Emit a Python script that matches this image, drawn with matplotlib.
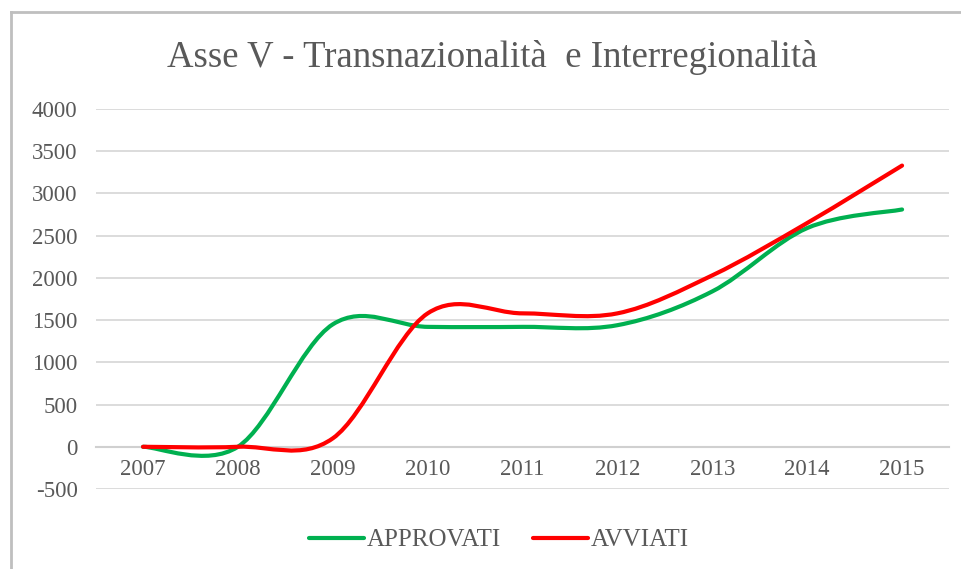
import numpy as np
import matplotlib.pyplot as plt
from matplotlib.path import Path
from matplotlib.patches import PathPatch
from matplotlib.lines import Line2D

plt.rcParams["font.family"] = ["Liberation Serif", "DejaVu Serif"]
plt.rcParams["axes.unicode_minus"] = False

anni = ["2007", "2008", "2009", "2010", "2011", "2012", "2013", "2014", "2015"]
approvati = [0, 0, 1450, 1420, 1420, 1440, 1840, 2590, 2810]
avviati = [0, 0, 100, 1580, 1580, 1580, 2030, 2650, 3330]

GRAY = "#595959"
GRID = "#d9d9d9"


def smooth_path(xs, ys):
    # curva tipo Excel (Catmull-Rom come Bezier cubiche)
    pts = np.column_stack([xs, ys]).astype(float)
    ext = np.vstack([pts[0], pts, pts[-1]])
    verts = [pts[0]]
    codes = [Path.MOVETO]
    for i in range(len(pts) - 1):
        p0, p1, p2, p3 = ext[i], ext[i + 1], ext[i + 2], ext[i + 3]
        c1 = p1 + (p2 - p0) / 6.0
        c2 = p2 - (p3 - p1) / 6.0
        verts += [c1, c2, p2]
        codes += [Path.CURVE4] * 3
    return Path(verts, codes)


fig = plt.figure(figsize=(9.62, 5.69), dpi=100)
W, H = 962, 569
ax = fig.add_axes([95.6 / W, 1 - 489 / H, (949.5 - 95.6) / W, (489 - 109) / H])

x = np.arange(len(anni))
serie = [("APPROVATI", approvati, "#00b050"), ("AVVIATI", avviati, "#ff0000")]
handles = []
for nome, vals, col in serie:
    patch = PathPatch(smooth_path(x, vals), facecolor="none", edgecolor=col,
                      lw=3, capstyle="round", joinstyle="round", zorder=3)
    ax.add_patch(patch)
    handles.append(Line2D([], [], color=col, lw=3, solid_capstyle="round", label=nome))

ax.set_xlim(-0.5, len(anni) - 0.5)
ax.set_ylim(-500, 4000)
ax.set_yticks(np.arange(-500, 4001, 500))
ax.set_xticks(x)
ax.set_xticklabels(anni)

ax.grid(axis="y", color=GRID, lw=1.3)
ax.set_axisbelow(True)
for s in ["top", "right", "left"]:
    ax.spines[s].set_visible(False)
ax.spines["bottom"].set_position(("data", 0))
ax.spines["bottom"].set_color("#d0d0d0")
ax.spines["bottom"].set_linewidth(1.5)

ax.tick_params(axis="y", length=0, pad=13, labelsize=16.5, labelcolor=GRAY)
ax.tick_params(axis="x", length=0, pad=9, labelsize=16.5, labelcolor=GRAY)

fig.text(492 / W, 1 - 57 / H, "Asse V - Transnazionalità  e Interregionalità",
         ha="center", va="center", fontsize=26.5, color=GRAY)

fig.legend(handles=handles, loc="center", bbox_to_anchor=(499 / W, 1 - 540 / H),
           ncol=2, frameon=False, fontsize=18, labelcolor=GRAY,
           handlelength=2.2, handletextpad=0.1, columnspacing=1.3)

# bordo del grafico
fig.add_artist(Line2D([11 / W, 11 / W], [0, 1 - 12 / H], color="#bfbfbf", lw=2))
fig.add_artist(Line2D([11 / W, 1], [1 - 12 / H, 1 - 12 / H], color="#bfbfbf", lw=2))

fig.savefig("out.png", dpi=100)
